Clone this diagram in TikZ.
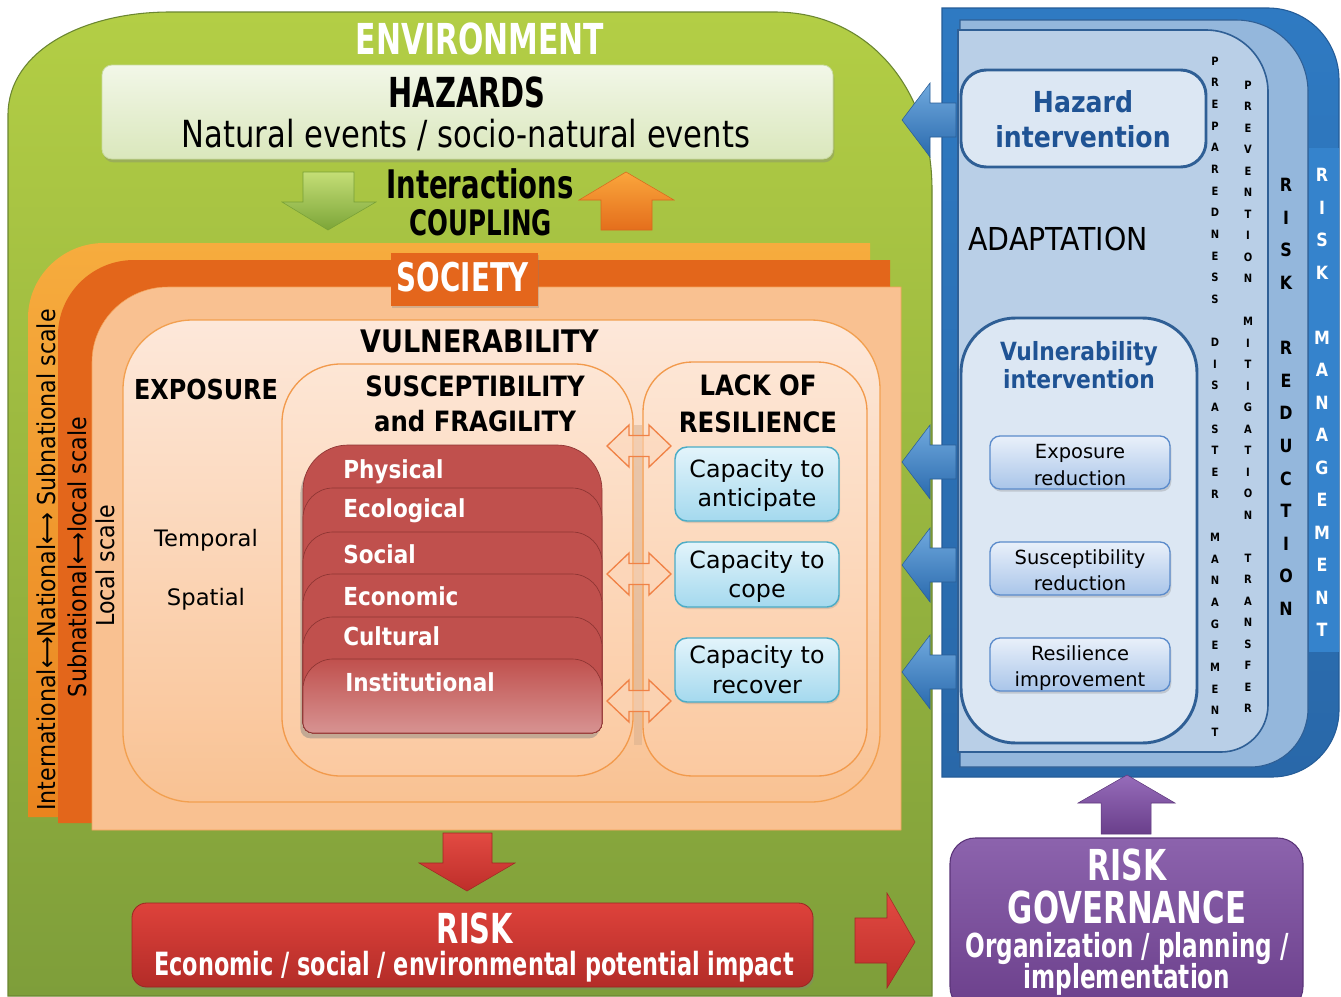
\documentclass[tikz,border=0pt]{standalone}
\usepackage{fontspec}
\setmainfont{DejaVu Sans}[BoldFeatures={FakeStretch=0.87}]
\newfontfamily\condf{DejaVu Sans}[FakeStretch=0.70]
\newfontfamily\semicondf{DejaVu Sans}[FakeStretch=0.82]
\newfontfamily\narrowf{DejaVu Sans}[FakeStretch=0.90]
\usetikzlibrary{shadows}

\newcommand\fs[1]{\fontsize{#1}{#1}\selectfont}

% box node given by its corners (pixel units)
\newcommand\mkbox[6]{\node[#1, inner sep=0pt, minimum width={(#5-#3)*0.75pt}, minimum height={(#6-#4)*0.75pt}] (#2) at ({(#3+#5)/2},{(#4+#6)/2}) {};}

% vertical column of letters: x, first y, step, first index, name prefix, style, letters
\newcommand\vletters[7]{\foreach \lt [count=\k from #4] in {#7} {\node[#6] (#5\k) at (#1,{#2+#3*\k}) {\lt};}}

% left-pointing block arrow at height #1
\newcommand\blueleft[1]{\path[bluearrow] (902,#1) -- (930,{#1-37}) -- (930,{#1-17}) -- (956,{#1-17}) -- (956,{#1+17}) -- (930,{#1+17}) -- (930,{#1+37}) -- cycle;}

% hollow double arrow at height #1
\newcommand\dblarrow[1]{\path[dblarr] (607,#1) -- (629,{#1-21}) -- (629,{#1-10.5}) -- (649,{#1-10.5}) -- (649,{#1-21}) -- (671,#1) -- (649,{#1+21}) -- (649,{#1+10.5}) -- (629,{#1+10.5}) -- (629,{#1+21}) -- cycle;}

% one card of the susceptibility stack: style, top, corner radius
\newcommand\tabshape[3]{\path[#1] (303,723) -- (303,{#2+#3}) .. controls (303,{#2+0.45*#3}) and ({303+0.45*#3},#2) .. ({303+#3},#2) -- ({602-#3},#2) .. controls ({602-0.45*#3},#2) and (602,{#2+0.45*#3}) .. (602,{#2+#3}) -- (602,723) .. controls (602,728.5) and (597.5,733) .. (592,733) -- (313,733) .. controls (307.5,733) and (303,728.5) .. (303,723) -- cycle;}

\definecolor{envtop}{HTML}{B3CE45}
\definecolor{envmid}{HTML}{97B83D}
\definecolor{envbot}{HTML}{7E9E3A}
\definecolor{bluetext}{HTML}{1F5394}
\definecolor{blueline}{HTML}{2F5F95}
\definecolor{linkstrip}{HTML}{D6AE8E}
\definecolor{mgmtstrip}{HTML}{3583CC}

\begin{document}
\begin{tikzpicture}[x=0.75pt, y=-0.75pt,
  txt/.style={inner sep=0pt, anchor=base},
  hazbox/.style={rounded corners=7.5pt, top color={rgb,255:red,242;green,247;blue,232}, bottom color={rgb,255:red,218;green,231;blue,188}, draw={rgb,255:red,201;green,219;blue,160}, line width=0.6pt, drop shadow={shadow xshift=1pt, shadow yshift=-2.5pt, opacity=0.35}},
  greenarr/.style={top color={rgb,255:red,196;green,222;blue,118}, bottom color={rgb,255:red,124;green,165;blue,56}, draw={rgb,255:red,120;green,160;blue,55}, line width=0.4pt},
  orangearr/.style={top color={rgb,255:red,250;green,166;blue,60}, bottom color={rgb,255:red,228;green,110;blue,28}, draw={rgb,255:red,215;green,105;blue,30}, line width=0.4pt},
  socbox/.style={fill={rgb,255:red,228;green,102;blue,28}, drop shadow={shadow xshift=1pt, shadow yshift=-1.5pt, opacity=0.3}},
  vulbox/.style={rounded corners=52pt, top color={rgb,255:red,253;green,232;blue,218}, bottom color={rgb,255:red,249;green,194;blue,147}, draw={rgb,255:red,242;green,160;blue,80}, line width=1pt},
  subbox/.style={rounded corners=44pt, top color={rgb,255:red,253;green,230;blue,213}, bottom color={rgb,255:red,251;green,201;blue,160}, draw={rgb,255:red,242;green,154;blue,76}, line width=1pt},
  capbox/.style={rounded corners=9pt, top color={rgb,255:red,227;green,244;blue,251}, bottom color={rgb,255:red,164;green,217;blue,238}, draw={rgb,255:red,75;green,172;blue,198}, line width=1.1pt, drop shadow={shadow xshift=0.8pt, shadow yshift=-1.5pt, opacity=0.25}},
  dblarr/.style={fill={rgb,255:red,252;green,214;blue,185}, fill opacity=0.5, draw={rgb,255:red,240;green,130;blue,70}, line width=1pt},
  redtabst/.style={fill={rgb,255:red,192;green,80;blue,77}, draw={rgb,255:red,142;green,53;blue,51}, line width=0.5pt},
  tablabel/.style={inner sep=0pt, anchor=base west, font=\bfseries\fs{18.6}, text=white},
  redarr/.style={top color={rgb,255:red,226;green,74;blue,66}, bottom color={rgb,255:red,190;green,46;blue,42}, draw={rgb,255:red,160;green,40;blue,36}, line width=0.4pt},
  riskbox/.style={rounded corners=11pt, top color={rgb,255:red,222;green,66;blue,59}, bottom color={rgb,255:red,179;green,44;blue,40}, draw={rgb,255:red,154;green,38;blue,34}, line width=0.6pt, drop shadow={shadow xshift=1pt, shadow yshift=-2pt, opacity=0.35}},
  hibox/.style={rounded corners=19pt, fill={rgb,255:red,220;green,231;blue,243}, draw=blueline, line width=2.2pt},
  smallbox/.style={rounded corners=7.5pt, top color={rgb,255:red,233;green,240;blue,250}, bottom color={rgb,255:red,169;green,197;blue,233}, draw={rgb,255:red,91;green,139;blue,203}, line width=1pt, drop shadow={shadow xshift=1pt, shadow yshift=-2pt, opacity=0.3}},
  bluearrow/.style={top color={rgb,255:red,112;green,169;blue,222}, bottom color={rgb,255:red,42;green,106;blue,173}, draw={rgb,255:red,42;green,94;blue,151}, line width=0.4pt},
  purparr/.style={top color={rgb,255:red,150;green,108;blue,186}, bottom color={rgb,255:red,106;green,63;blue,139}, draw={rgb,255:red,95;green,56;blue,125}, line width=0.4pt},
  govbox/.style={rounded corners=19pt, top color={rgb,255:red,140;green,99;blue,173}, bottom color={rgb,255:red,107;green,63;blue,139}, draw={rgb,255:red,90;green,52;blue,120}, line width=0.8pt},
  scaletxt/.style={rotate=90, inner sep=0pt, font=\narrowf\fs{18.5}},
  prepl/.style={inner sep=0pt, font=\bfseries\fs{8.6}},
  rrl/.style={inner sep=0pt, font=\bfseries\fs{13.7}},
  rml/.style={inner sep=0pt, font=\bfseries\fs{13.7}, text=white}
]
\useasboundingbox (0,0) rectangle (1341,996);
\fill[white] (0,0) rectangle (1341,996);

% ---------- environment ----------
\path[top color=envtop, middle color=envmid, bottom color=envbot, draw=envbot!85!black, line width=0.8pt]
  (8,996) -- (8,115) .. controls (8,50) and (85,12) .. (170,12) -- (775,12)
  .. controls (865,12) and (932,85) .. (932,190) -- (932,996) -- cycle;
\node[txt, font=\condf\bfseries\fs{32}, text=white] (envt) at (480,54) {ENVIRONMENT};

% hazards
\mkbox{hazbox}{haz}{102}{65}{833}{159}
\node[txt, font=\condf\bfseries\fs{31}] (hazt) at (467,107) {HAZARDS};
\node[txt, font=\semicondf\fs{28}] (hazs) at (466,147) {Natural events / socio-natural events};

% coupling arrows
\path[greenarr] (303,172) -- (354,172) -- (354,202) -- (376,202) -- (328,230) -- (282,202) -- (303,202) -- cycle;
\path[orangearr] (626,172) -- (674,200) -- (652,200) -- (652,230) -- (601,230) -- (601,200) -- (579,200) -- cycle;
\node[txt, font=\condf\bfseries\fs{29.5}] (inter) at (480,198) {Interactions};
\node[txt, font=\condf\bfseries\fs{26.3}] (coup) at (481,235) {COUPLING};

% ---------- society: nested scales ----------
\path[top color={rgb,255:red,246;green,172;blue,62}, bottom color={rgb,255:red,234;green,132;blue,30}]
  (28,817) -- (28,318) .. controls (28,277) and (62,243) .. (104,243) -- (870,243) -- (870,817) -- cycle;
\path[fill={rgb,255:red,227;green,102;blue,27}]
  (58,823) -- (58,335) .. controls (58,294) and (92,260) .. (134,260) -- (890,260) -- (890,823) -- cycle;
\path[fill={rgb,255:red,249;green,193;blue,145}, draw={rgb,255:red,244;green,163;blue,90}]
  (92,830) -- (92,362) .. controls (92,321) and (126,287) .. (168,287) -- (901,287) -- (901,830) -- cycle;

\mkbox{socbox}{socbox}{391}{253}{538}{306}
\node[txt, font=\condf\bfseries\fs{29.7}, text=white] (soct) at (463,291) {SOCIETY};

\node[scaletxt] (scaleA) at (46,560) {International⟷National⟷ Subnational scale};
\node[scaletxt] (scaleB) at (77,557) {Subnational⟷local scale};
\node[scaletxt] (scaleC) at (105,566) {Local scale};

% ---------- vulnerability ----------
\mkbox{vulbox}{vul}{123}{320}{880}{802}
\node[txt, font=\bfseries\fs{23.3}] (vult) at (480,352) {VULNERABILITY};
\node[txt, font=\bfseries\fs{20.6}] (expt) at (206,399) {EXPOSURE};
\node[txt, font=\fs{17}] (tempt) at (206,546) {Temporal};
\node[txt, font=\fs{17}] (spatt) at (206,605) {Spatial};

\mkbox{subbox}{susc}{282}{364}{633}{776}
\node[txt, font=\bfseries\fs{21}] (suscA) at (475,396) {SUSCEPTIBILITY};
\node[txt, font=\bfseries\fs{21}] (suscB) at (475,431) {and FRAGILITY};

\mkbox{subbox, rounded corners=37pt}{lackres}{643}{362}{867}{776}
\node[txt, font=\bfseries\fs{21}] (lackA) at (758,395) {LACK OF};
\node[txt, font=\bfseries\fs{21}] (lackB) at (758,432) {RESILIENCE};

% link strip between the two parts
\fill[linkstrip, opacity=0.5] (634,425) rectangle (642,745);

% stack of susceptibility factors
\tabshape{redtabst, drop shadow={shadow xshift=-2pt, shadow yshift=-4pt, opacity=0.45}}{445}{45}
\tabshape{redtabst}{488}{30}
\tabshape{redtabst}{532}{30}
\tabshape{redtabst}{574}{30}
\tabshape{redtabst}{617}{30}
\tabshape{redtabst, top color={rgb,255:red,192;green,80;blue,77}, bottom color={rgb,255:red,215;green,147;blue,146}}{659}{30}
\node[tablabel] (phys) at (343,478) {Physical};
\node[tablabel] (ecol) at (343,517) {Ecological};
\node[tablabel] (soci) at (343,563) {Social};
\node[tablabel] (econ) at (343,605) {Economic};
\node[tablabel] (cult) at (343,645) {Cultural};
\node[tablabel] (inst) at (345,691) {Institutional};

% capacities
\mkbox{capbox}{cap1}{675}{447}{839}{521}
\mkbox{capbox}{cap2}{675}{542}{839}{607}
\mkbox{capbox}{cap3}{675}{638}{839}{702}
\node[txt, font=\fs{17.8}] (cap1a) at (757,477) {Capacity to};
\node[txt, font=\fs{17.8}] (cap1b) at (757,506) {anticipate};
\node[txt, font=\fs{17.8}] (cap2a) at (757,568) {Capacity to};
\node[txt, font=\fs{17.8}] (cap2b) at (757,597) {cope};
\node[txt, font=\fs{17.8}] (cap3a) at (757,663) {Capacity to};
\node[txt, font=\fs{17.8}] (cap3b) at (757,693) {recover};

\dblarrow{446}
\dblarrow{574}
\dblarrow{701}

% ---------- risk ----------
\path[redarr] (443,833) -- (492,833) -- (492,863) -- (515,863) -- (467,891) -- (419,863) -- (443,863) -- cycle;
\mkbox{riskbox}{risk}{132}{903}{813}{987}
\node[txt, font=\condf\bfseries\fs{31}, text=white] (riskt) at (475,943) {RISK};
\node[txt, font=\condf\bfseries\fs{24}, text=white] (risks) at (474,975) {Economic / social / environmental potential impact};
\path[redarr] (855,918) -- (887,918) -- (887,893) -- (915,942) -- (887,988) -- (887,963) -- (855,963) -- cycle;

% ---------- risk management panel ----------
\path[top color={rgb,255:red,47;green,122;blue,194}, bottom color={rgb,255:red,41;green,104;blue,169}, draw={rgb,255:red,36;green,92;blue,152}, line width=0.8pt]
  (942,8) -- (1268,8) .. controls (1307,8) and (1339,40) .. (1339,80) -- (1339,710)
  .. controls (1339,747) and (1309,777) .. (1272,777) -- (942,777) -- cycle;
\fill[mgmtstrip] (1309,148) rectangle (1339,652);
\path[fill={rgb,255:red,148;green,183;blue,220}, draw=blueline, line width=0.8pt]
  (960,20) -- (1236,20) .. controls (1276,20) and (1308,52) .. (1308,92) -- (1308,708)
  .. controls (1308,741) and (1283,767) .. (1250,767) -- (960,767) -- cycle;
\path[fill={rgb,255:red,185;green,207;blue,231}, draw=blueline, line width=1.2pt]
  (958,30) -- (1206,30) .. controls (1240,30) and (1268,58) .. (1268,92) -- (1268,705)
  .. controls (1268,731) and (1247,752) .. (1221,752) -- (958,752) -- cycle;

\mkbox{hibox}{hazint}{961}{70}{1206}{167}
\node[txt, font=\bfseries\fs{21.7}, text=bluetext] (hazintA) at (1083,112) {Hazard};
\node[txt, font=\bfseries\fs{21.7}, text=bluetext] (hazintB) at (1083,147) {intervention};

\node[txt, font=\narrowf\fs{23.7}] (adapt) at (1058,250) {ADAPTATION};

\mkbox{hibox, rounded corners=41pt}{vulint}{961}{318}{1197}{743}
\node[txt, font=\bfseries\fs{18.8}, text=bluetext] (vulintA) at (1079,360) {Vulnerability};
\node[txt, font=\bfseries\fs{18.8}, text=bluetext] (vulintB) at (1079,388) {intervention};

\mkbox{smallbox}{expred}{990}{436}{1170}{489}
\mkbox{smallbox}{susred}{990}{542}{1170}{595}
\mkbox{smallbox}{resimp}{990}{638}{1170}{691}
\node[txt, font=\fs{14.6}] (expredA) at (1080,458) {Exposure};
\node[txt, font=\fs{14.6}] (expredB) at (1080,485) {reduction};
\node[txt, font=\fs{14.6}] (susredA) at (1080,564) {Susceptibility};
\node[txt, font=\fs{14.6}] (susredB) at (1080,590) {reduction};
\node[txt, font=\fs{14.6}] (resimpA) at (1080,660) {Resilience};
\node[txt, font=\fs{14.6}] (resimpB) at (1080,686) {improvement};

% lettered columns
\vletters{1215}{61}{21.65}{0}{pa}{prepl}{P,R,E,P,A,R,E,D,N,E,S,S}
\vletters{1215}{61}{21.65}{13}{pb}{prepl}{D,I,S,A,S,T,E,R}
\vletters{1215}{61}{21.65}{22}{pc}{prepl}{M,A,N,A,G,E,M,E,N,T}
\vletters{1248}{85}{21.5}{0}{qa}{prepl}{P,R,E,V,E,N,T,I,O,N}
\vletters{1248}{85}{21.5}{11}{qb}{prepl}{M,I,T,I,G,A,T,I,O,N}
\vletters{1248}{85}{21.5}{22}{qc}{prepl}{T,R,A,N,S,F,E,R}
\vletters{1286}{185}{32.6}{0}{ra}{rrl}{R,I,S,K}
\vletters{1286}{185}{32.6}{5}{rb}{rrl}{R,E,D,U,C,T,I,O,N}
\vletters{1322}{175}{32.5}{0}{ma}{rml}{R,I,S,K}
\vletters{1322}{175}{32.5}{5}{mb}{rml}{M,A,N,A,G,E,M,E,N,T}

% interventions acting on the environment
\blueleft{120}
\blueleft{462}
\blueleft{565}
\blueleft{672}

% ---------- governance ----------
\path[purparr] (1127,775) -- (1175,803) -- (1151,803) -- (1151,834) -- (1101,834) -- (1101,803) -- (1078,803) -- cycle;
\mkbox{govbox}{gov}{950}{838}{1303}{1012}
\node[txt, font=\condf\bfseries\fs{32}, text=white] (govA) at (1127,880) {RISK};
\node[txt, font=\condf\bfseries\fs{33}, text=white] (govB) at (1127,923) {GOVERNANCE};
\node[txt, font=\condf\bfseries\fs{24.8}, text=white] (govC) at (1127,957) {Organization / planning /};
\node[txt, font=\condf\bfseries\fs{24.8}, text=white] (govD) at (1127,988) {implementation};
\end{tikzpicture}
\end{document}
